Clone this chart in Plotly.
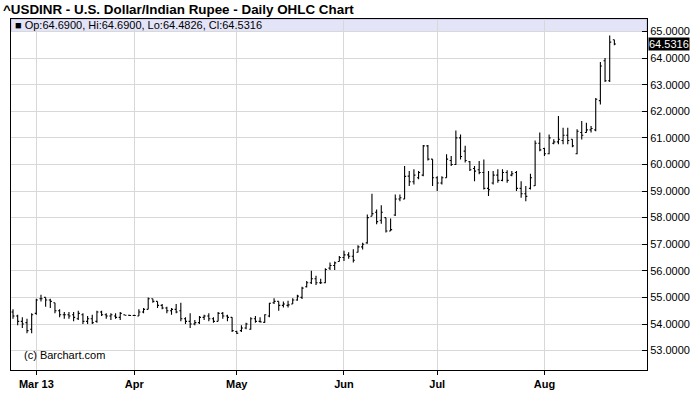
import pandas as pd
import plotly.graph_objects as go

title_text = "^USDINR - U.S. Dollar/Indian Rupee - Daily OHLC Chart"

dates = pd.bdate_range("2013-02-22", "2013-08-22")

opens = [54.45, 54.30, 54.10, 54.05, 53.80,
         54.40, 54.95, 55.00, 54.90, 54.80, 54.50, 54.35, 54.35, 54.35, 54.20, 54.35,
         54.10, 54.20, 54.10, 54.45, 54.35, 54.30, 54.30, 54.25, 54.35, 54.33,
         54.32, 54.30, 54.45, 54.55, 54.95, 54.85, 54.70, 54.60, 54.50, 54.55,
         54.50, 54.20, 54.10, 54.00, 54.05, 54.25, 54.30, 54.20, 54.10, 54.40, 54.30, 54.25,
         53.72, 53.75, 53.85, 53.80, 54.20, 54.10, 54.06, 54.30, 54.80, 54.85, 54.70, 54.70,
         54.75, 54.90, 55.00, 55.40, 55.55, 55.70, 55.55, 55.55, 56.10, 56.20, 56.35,
         56.50, 56.60, 56.55, 56.70, 56.90, 57.05, 58.05, 58.20, 57.90, 58.00, 57.50, 58.10,
         58.70, 58.70, 59.56, 59.35, 59.50, 59.60, 60.70, 60.20,
         59.50, 59.30, 59.50, 60.15, 60.00, 61.00, 60.50, 60.10, 59.85, 59.80, 59.70, 59.10,
         59.30, 59.60, 59.40, 59.70, 59.60, 59.70, 59.10, 58.90, 59.10, 59.20, 60.80,
         60.60, 60.40, 60.80, 60.85, 60.90, 61.10, 60.95, 60.40, 61.20, 61.20, 61.30,
         61.30, 62.40, 63.90, 63.15, 64.69]

highs = [54.55, 54.35, 54.25, 54.20, 54.40,
         54.95, 55.10, 55.00, 54.95, 54.80, 54.55, 54.45, 54.45, 54.45, 54.50, 54.40,
         54.30, 54.35, 54.50, 54.50, 54.40, 54.40, 54.40, 54.45, 54.35, 54.35,
         54.35, 54.55, 54.60, 55.00, 54.95, 54.85, 54.75, 54.65, 54.60, 54.75,
         54.80, 54.25, 54.40, 54.15, 54.30, 54.35, 54.40, 54.25, 54.45, 54.45, 54.35, 54.25,
         53.75, 53.95, 54.05, 54.25, 54.30, 54.25, 54.37, 54.80, 54.97, 54.85, 54.85, 54.87,
         54.97, 55.10, 55.40, 55.62, 56.00, 55.81, 55.70, 56.10, 56.31, 56.35, 56.56,
         56.75, 56.70, 56.81, 56.96, 57.06, 58.12, 58.90, 58.31, 58.47, 58.00, 57.97, 58.87,
         58.87, 59.94, 59.75, 59.82, 59.75, 60.73, 60.73, 60.20,
         59.56, 59.56, 60.38, 60.32, 61.28, 61.13, 60.70, 60.13, 59.94, 60.13, 60.19, 59.75,
         59.75, 59.82, 59.82, 59.78, 59.75, 59.75, 59.37, 59.19, 59.65, 60.90, 61.20,
         60.63, 61.13, 60.95, 61.82, 61.38, 61.38, 60.95, 61.32, 61.63, 61.57, 61.45,
         62.50, 63.85, 64.00, 64.85, 64.69]

lows = [54.20, 53.95, 53.85, 53.65, 53.65,
        54.35, 54.85, 54.65, 54.60, 54.40, 54.25, 54.20, 54.20, 54.10, 54.15, 54.00,
        54.00, 54.00, 54.05, 54.30, 54.20, 54.15, 54.20, 54.15, 54.32, 54.30,
        54.30, 54.30, 54.40, 54.55, 54.80, 54.60, 54.55, 54.40, 54.35, 54.40,
        54.10, 54.00, 53.85, 53.95, 54.00, 54.15, 54.10, 54.05, 54.10, 54.20, 54.10, 53.70,
        53.62, 53.70, 53.80, 53.78, 54.05, 54.06, 54.05, 54.25, 54.75, 54.50, 54.62, 54.62,
        54.75, 54.87, 54.94, 55.37, 55.50, 55.47, 55.50, 55.53, 56.03, 56.03, 56.35,
        56.37, 56.45, 56.31, 56.69, 56.80, 57.02, 58.05, 57.75, 57.77, 57.44, 57.50, 58.06,
        58.62, 58.69, 59.19, 59.25, 59.44, 59.56, 60.15, 59.19,
        59.00, 59.25, 59.50, 59.94, 59.98, 60.19, 60.07, 59.75, 59.37, 59.63, 59.06, 58.81,
        59.25, 59.31, 59.37, 59.31, 59.56, 59.00, 58.75, 58.62, 59.06, 59.19, 60.50,
        60.32, 60.38, 60.76, 60.76, 60.76, 60.76, 60.65, 60.38, 60.94, 61.19, 61.20,
        61.25, 62.25, 63.10, 63.10, 64.4826]

closes = [54.30, 54.10, 54.00, 53.75, 54.35,
          54.90, 54.95, 54.90, 54.85, 54.50, 54.35, 54.35, 54.30, 54.25, 54.40, 54.10,
          54.20, 54.05, 54.45, 54.35, 54.30, 54.35, 54.25, 54.40, 54.33, 54.32,
          54.32, 54.45, 54.55, 54.95, 54.85, 54.70, 54.60, 54.50, 54.55, 54.45,
          54.20, 54.10, 54.00, 54.05, 54.25, 54.30, 54.20, 54.10, 54.40, 54.30, 54.25, 53.75,
          53.65, 53.85, 54.00, 54.20, 54.10, 54.08, 54.35, 54.78, 54.85, 54.70, 54.75, 54.72,
          54.90, 55.05, 55.35, 55.55, 55.70, 55.55, 55.55, 56.05, 56.20, 56.30, 56.50,
          56.60, 56.55, 56.40, 56.90, 57.00, 58.00, 58.15, 57.85, 58.20, 57.50, 57.55, 58.70,
          58.75, 59.55, 59.35, 59.60, 59.70, 60.70, 60.20, 59.50,
          59.30, 59.50, 60.20, 60.00, 61.00, 60.30, 60.15, 59.80, 59.75, 59.70, 59.10, 59.05,
          59.60, 59.40, 59.70, 59.40, 59.65, 59.10, 58.90, 58.80, 59.50, 60.80, 60.55,
          60.40, 61.00, 60.85, 60.95, 61.10, 60.90, 60.70, 61.25, 61.10, 61.30, 61.35,
          62.45, 63.70, 63.15, 64.60, 64.5316]

month_ticks = ["2013-03-01", "2013-04-01", "2013-05-01", "2013-06-03", "2013-07-01", "2013-08-01"]
month_labels = ["Mar 13", "Apr", "May", "Jun", "Jul", "Aug"]

price_ticks = [53, 54, 55, 56, 57, 58, 59, 60, 61, 62, 63, 64, 65]

n = min(len(dates), len(opens), len(highs), len(lows), len(closes))
x = list(dates[:n])

fig = go.Figure()
fig.add_trace(go.Ohlc(
    x=x, open=opens[:n], high=highs[:n], low=lows[:n], close=closes[:n],
    increasing=dict(line=dict(color="black", width=1.1)),
    decreasing=dict(line=dict(color="black", width=1.1)),
    tickwidth=0.33, showlegend=False, hoverinfo="skip",
))

W, H = 700, 411
L, R, T, B = 10, 48, 19, 41

fig.update_layout(
    width=W, height=H,
    margin=dict(l=L, r=R, t=T, b=B, pad=0),
    paper_bgcolor="white", plot_bgcolor="white",
    font=dict(family="Liberation Sans, Arial, sans-serif", color="black"),
    showlegend=False,
    title=dict(text=title_text, x=3 / W, xanchor="left", xref="container",
               y=1 - 9 / H, yanchor="middle", yref="container",
               font=dict(size=13.4, weight="bold", family="Liberation Sans, Arial, sans-serif", color="black")),
    xaxis=dict(
        type="date",
        rangebreaks=[dict(bounds=["sat", "mon"])],
        range=["2013-02-21 13:40", "2013-09-02"],
        rangeslider=dict(visible=False),
        tickvals=month_ticks, ticktext=month_labels,
        tickfont=dict(family="Liberation Sans Narrow, Arial Narrow, Liberation Sans", size=11, weight="bold"),
        ticks="outside", ticklen=4, tickcolor="black",
        showgrid=True, gridcolor="#d8d8d8", gridwidth=1,
        showline=True, linecolor="black", linewidth=1, mirror=True,
        zeroline=False, fixedrange=True,
    ),
    yaxis=dict(
        side="right",
        range=[52.27, 65.47],
        tickvals=price_ticks, ticktext=[f"{v:.4f}" for v in price_ticks],
        tickfont=dict(family="Liberation Sans, Arial, sans-serif", size=11),
        ticks="inside", ticklen=5, tickcolor="black",
        showgrid=True, gridcolor="#d8d8d8", gridwidth=1,
        showline=True, linecolor="black", linewidth=1, mirror=True,
        zeroline=False, fixedrange=True,
    ),
)

# legend band at top of plot
fig.add_shape(type="rect", xref="paper", yref="y", x0=0, x1=1, y0=65.0, y1=65.47,
              fillcolor="#e4e4f8", line=dict(color="#b8b8d8", width=1), layer="below")

last_o, last_h, last_l, last_c = opens[n - 1], highs[n - 1], lows[n - 1], closes[n - 1]
info = f"\u25a0 Op:{last_o:.4f}, Hi:{last_h:.4f}, Lo:{last_l:.4f}, Cl:{last_c:.4f}"
fig.add_annotation(xref="paper", yref="paper", x=2 / 642, y=1 - 6 / 351, xanchor="left", yanchor="middle",
                   text=info, showarrow=False,
                   font=dict(size=11, family="Liberation Sans, Arial, sans-serif", color="black"))

# last price marker on the right axis
fig.add_annotation(xref="paper", yref="y", x=1, y=last_c, xanchor="left", yanchor="middle",
                   xshift=1, text=f"{last_c:.4f}", showarrow=False, bgcolor="black",
                   borderpad=0,
                   font=dict(size=11, family="Liberation Sans, Arial, sans-serif", color="white"))

fig.add_annotation(xref="paper", yref="paper", x=11 / 642, y=15 / 351, xanchor="left", yanchor="middle",
                   text="(c) Barchart.com", showarrow=False,
                   font=dict(size=11, family="Liberation Sans, Arial, sans-serif", color="black"))

fig.write_html("out.html", config={"displayModeBar": False},
               post_script="document.body.style.margin='0';document.body.style.overflow='hidden';")
